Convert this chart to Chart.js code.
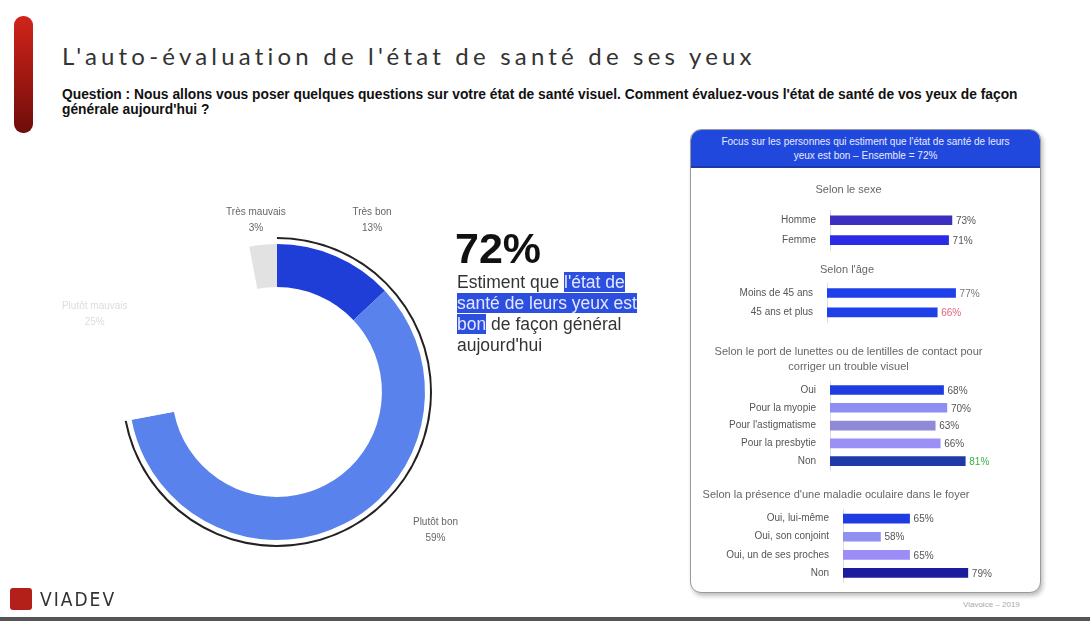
<!DOCTYPE html>
<html lang="fr">
<head>
<meta charset="utf-8">
<script src="https://cdn.jsdelivr.net/npm/chart.js@4.4.1/dist/chart.umd.min.js"></script>
<style>
  html, body { margin: 0; padding: 0; background: #fff; }
  body { width: 1090px; height: 621px; position: relative; overflow: hidden; font-family: "Liberation Sans", Arial, sans-serif; }
  .redbar { position: absolute; left: 14px; top: 16px; width: 19px; height: 117px; border-radius: 9px;
    background: linear-gradient(#d0241b, #a31812 50%, #6e0d0a); }
  h1 { position: absolute; left: 62px; top: 41px; margin: 0; font-family: "Lato", sans-serif; font-weight: 400;
    font-size: 24px; letter-spacing: 4.2px; color: #333; white-space: nowrap; }
  .question { position: absolute; left: 62px; top: 87px; width: 975px; font-size: 13.8px; font-weight: bold; line-height: 15px; color: #111; }
  #donut { position: absolute; left: 40px; top: 180px; }
  .big { position: absolute; left: 455px; top: 224px; font-size: 43px; font-weight: bold; color: #111; }
  .desc { position: absolute; left: 457px; top: 272px; width: 190px; font-size: 17.5px; line-height: 21px; color: #333; }
  .hl { background: #2d4fe0; color: #e3e8ff; }
  .panel { position: absolute; left: 690px; top: 129px; width: 349px; height: 462px; border: 1.5px solid #9a9a9a;
    border-radius: 11px; box-shadow: 2px 3px 4px rgba(0,0,0,0.25); overflow: hidden; background: #fff; }
  .panel .head { height: 38px; background: #2148dc; color: #e6ebff; font-size: 10px; line-height: 14px;
    text-align: center; padding-top: 5px; box-sizing: border-box; border-bottom: 2px solid #1a3aa8; }
  .bar-c { position: absolute; left: 700px; }
  .logo { position: absolute; left: 10px; top: 588px; width: 22px; height: 22px; background: #b3201a; border-radius: 3px; }
  .logotext { position: absolute; left: 40px; top: 588px; font-size: 19px; letter-spacing: 2px; color: #333; font-family: "DejaVu Sans Condensed", sans-serif; }
  .foot { position: absolute; left: 963px; top: 600px; font-size: 8px; color: #aaa; }
  .bottomline { position: absolute; left: 0; top: 617px; width: 1090px; height: 4px; background: #555; }
</style>
</head>
<body>
<div class="redbar"></div>
<h1>L'auto-évaluation de l'état de santé de ses yeux</h1>
<div class="question">Question : Nous allons vous poser quelques questions sur votre état de santé visuel. Comment évaluez-vous l'état de santé de vos yeux de façon générale aujourd'hui ?</div>

<canvas id="donut" width="460" height="420"></canvas>

<div class="big">72%</div>
<div class="desc">Estiment que <span class="hl">l'état de santé de leurs yeux est bon</span> de façon général aujourd'hui</div>

<div class="panel">
  <div class="head">Focus sur les personnes qui estiment que l'état de santé de leurs<br>yeux est bon – Ensemble = 72%</div>
</div>
<canvas id="sexe" class="bar-c" style="top:180px" width="335" height="72"></canvas>
<canvas id="age" class="bar-c" style="top:260px" width="335" height="64"></canvas>
<canvas id="lunettes" class="bar-c" style="top:340px" width="335" height="132"></canvas>
<canvas id="maladie" class="bar-c" style="top:485px" width="335" height="99"></canvas>

<div class="logo"></div>
<div class="logotext">VIADEV</div>
<div class="foot">Viavoice – 2019</div>
<div class="bottomline"></div>

<script>
// donut data
const donutLabels = ['Très bon', 'Plutôt bon', 'Plutôt mauvais', 'Très mauvais'];
const donutValues = [13, 59, 25, 3];
const goodShare = [72, 28];

// focus panel data
const sexeLabels = ['Homme', 'Femme'];
const sexeValues = [73, 71];
const ageLabels = ['Moins de 45 ans', '45 ans et plus'];
const ageValues = [77, 66];
const lunettesLabels = ['Oui', 'Pour la myopie', "Pour l'astigmatisme", 'Pour la presbytie', 'Non'];
const lunettesValues = [68, 70, 63, 66, 81];
const maladieLabels = ['Oui, lui-même', 'Oui, son conjoint', 'Oui, un de ses proches', 'Non'];
const maladieValues = [65, 58, 65, 79];

// labels around the donut: [angle from top in degrees, distance from centre]
const donutLabelPlugin = {
    id: 'donutLabels',
    afterDatasetsDraw(chart, args, opts) {
        const ctx = chart.ctx;
        const meta = chart.getDatasetMeta(2);
        ctx.save();
        ctx.font = '10px "Liberation Sans", Arial';
        ctx.textAlign = 'center';
        ctx.textBaseline = 'middle';
        meta.data.forEach((arc, i) => {
            const p = opts.pos[i];
            const a = p[0] * Math.PI / 180;
            const x = arc.x + Math.sin(a) * p[1];
            const y = arc.y - Math.cos(a) * p[1];
            ctx.fillStyle = opts.colors[i];
            ctx.fillText(donutLabels[i], x, y - 8);
            ctx.fillText(donutValues[i] + '%', x, y + 8);
        });
        ctx.restore();
    }
};

new Chart(document.getElementById('donut'), {
    type: 'doughnut',
    data: {
        labels: donutLabels,
        datasets: [
            { data: goodShare, backgroundColor: ['#222', 'rgba(0,0,0,0)'], borderWidth: 0, weight: 2 },
            { data: goodShare, backgroundColor: ['rgba(0,0,0,0)', 'rgba(0,0,0,0)'], borderWidth: 0, weight: 5 },
            {
                data: donutValues,
                backgroundColor: ['#1f3ed8', '#5a82ec', '#ffffff', '#e2e2e2'],
                borderWidth: 0,
                weight: 43
            }
        ]
    },
    options: {
        responsive: false,
        animation: false,
        cutout: '67.7%',
        hoverOffset: 0,
        layout: { padding: { left: 82, right: 68, top: 57, bottom: 53 } },
        plugins: {
            legend: { display: false },
            tooltip: { enabled: false },
            donutLabels: {
                pos: [[29, 196], [131, 210], [293, 198], [353, 173]],
                colors: ['#666', '#666', '#ddd', '#666']
            }
        }
    },
    plugins: [donutLabelPlugin]
});

const valueLabelPlugin = {
    id: 'valueLabels',
    afterDatasetsDraw(chart, args, opts) {
        const ctx = chart.ctx;
        const meta = chart.getDatasetMeta(0);
        const values = chart.data.datasets[0].data;
        ctx.save();
        ctx.font = '10px "Liberation Sans", Arial';
        ctx.textAlign = 'left';
        ctx.textBaseline = 'middle';
        meta.data.forEach((bar, i) => {
            ctx.fillStyle = opts.colors[i];
            ctx.fillText(values[i] + '%', bar.x + 4, bar.y + 1);
        });
        ctx.restore();
    }
};

function makeBars(id, title, labels, values, colors, labelColors, cfg) {
    return new Chart(document.getElementById(id), {
        type: 'bar',
        data: {
            labels: labels,
            datasets: [{
                data: values,
                backgroundColor: colors,
                borderWidth: 0,
                barThickness: 9
            }]
        },
        options: {
            indexAxis: 'y',
            responsive: false,
            animation: false,
            layout: { padding: { right: cfg.right, bottom: 2 } },
            scales: {
                x: { display: false, min: cfg.min, max: cfg.max },
                y: {
                    afterFit: (axis) => {
                        axis.width = cfg.axisWidth;
                        axis.paddingTop = 0;
                        axis.paddingBottom = 0;
                    },
                    grid: { display: false, drawTicks: false },
                    border: { display: true, color: '#ddd' },
                    ticks: { color: '#555', padding: 14, font: { size: 10, family: '"Liberation Sans", Arial' } }
                }
            },
            plugins: {
                legend: { display: false },
                tooltip: { enabled: false },
                title: {
                    display: true,
                    text: title,
                    color: '#666',
                    font: { size: 11, weight: 'normal', family: '"Liberation Sans", Arial', lineHeight: 1.35 },
                    padding: { top: cfg.padTop, bottom: cfg.padBottom }
                },
                valueLabels: { colors: labelColors }
            }
        },
        plugins: [valueLabelPlugin]
    });
}

makeBars('sexe', 'Selon le sexe', sexeLabels, sexeValues,
    ['#3b2fc0', '#2b2be6'], ['#555', '#555'],
    { axisWidth: 130, right: 38, min: 0, max: 100, padTop: 2.5, padBottom: 13 });

makeBars('age', "Selon l'âge", ageLabels, ageValues,
    ['#1f3fe8', '#1f3fe8'], ['#777', '#e0607e'],
    { axisWidth: 127, right: 41, min: 0, max: 100, padTop: 2.5, padBottom: 6 });

makeBars('lunettes', ['Selon le port de lunettes ou de lentilles de contact pour', 'corriger un trouble visuel'],
    lunettesLabels, lunettesValues,
    ['#1f3ce0', '#8c8ef2', '#8e8ad8', '#9b90f6', '#1f3aa8'], ['#555', '#555', '#555', '#555', '#3cb043'],
    { axisWidth: 130, right: 38, min: 0, max: 100, padTop: 4.6, padBottom: 6.8 });

makeBars('maladie', "Selon la présence d'une maladie oculaire dans le foyer",
    maladieLabels, maladieValues,
    ['#1f3ce0', '#9090f0', '#9b8cf8', '#1c1c9c'], ['#555', '#555', '#555', '#555'],
    { axisWidth: 143, right: 63, min: 49, max: 80, padTop: 2.5, padBottom: 7.2 });
</script>
</body>
</html>
